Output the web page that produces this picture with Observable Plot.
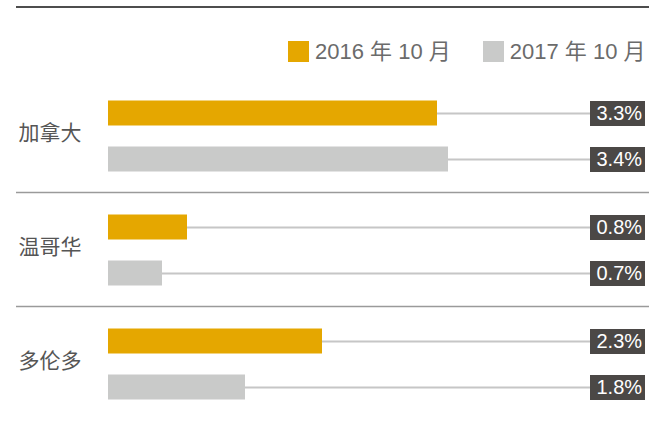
<!DOCTYPE html>
<html>
<head>
<meta charset="utf-8">
<script src="https://cdn.jsdelivr.net/npm/d3@7"></script>
<script src="https://cdn.jsdelivr.net/npm/@observablehq/plot@0.6"></script>
<style>
  html, body { margin: 0; padding: 0; background: #fff; }
  body { width: 649px; height: 427px; overflow: hidden; font-family: "Liberation Sans", Arial, "Noto Sans CJK SC", sans-serif; }
  .topline { height: 0; margin: 6px 0 0 16px; border-top: 2px solid #4d4d4d; }
  .legend { height: 69px; box-sizing: border-box; padding: 33px 0 0 288px; display: flex; align-items: flex-start; }
  .legend .item { display: flex; align-items: center; height: 21px; margin-right: 32px; }
  .legend .sw { width: 21px; height: 21px; margin-right: 6px; }
  .legend .lab { font-size: 22px; color: #6b6b6b; line-height: 21px; white-space: nowrap; }
  #chart svg { display: block; }
</style>
</head>
<body>
<div class="topline"></div>
<div class="legend" id="legend"></div>
<div id="chart"></div>
<script>
// ---- data ----
const cities = ["加拿大", "温哥华", "多伦多"];
const periods = ["2016 年 10 月", "2017 年 10 月"];
const colors = ["#e5a700", "#c9cac9"];
// bar lengths as drawn in the picture (percent)
const bars2016 = [3.29, 0.79, 2.14];
const bars2017 = [3.40, 0.54, 1.37];
// printed value labels
const labels2016 = ["3.3%", "0.8%", "2.3%"];
const labels2017 = ["3.4%", "0.7%", "1.8%"];

// ---- table built from arrays ----
const rows = [];
cities.forEach((c, i) => {
  rows.push({city: c, period: periods[0], value: bars2016[i], label: labels2016[i]});
  rows.push({city: c, period: periods[1], value: bars2017[i], label: labels2017[i]});
});

// ---- legend ----
const legend = document.getElementById("legend");
periods.forEach((p, i) => {
  const item = document.createElement("div");
  item.className = "item";
  item.innerHTML = `<div class="sw" style="background:${colors[i]}"></div><span class="lab">${p}</span>`;
  legend.appendChild(item);
});

// ---- chart ----
const xMax = 4.82;     // right end of the bar area (where labels start)
const boxW = 0.55;     // label box width in x units
const font = "'Liberation Sans', Arial, 'Noto Sans CJK SC', sans-serif";

const chart = Plot.plot({
  width: 649,
  height: 350,
  marginLeft: 16,
  marginRight: 0,
  marginTop: 0.5,
  marginBottom: 7.5,
  style: {fontFamily: font, background: "transparent"},
  x: {domain: [0, xMax], range: [108, 590], axis: null},
  y: {domain: periods, paddingInner: 21 / 46, paddingOuter: 0.467, align: 0.523, axis: null},
  fy: {domain: cities, padding: 0, axis: null},
  color: {domain: periods, range: colors},
  marks: [
    // group separators
    Plot.ruleY(cities.slice(0, 2), {fy: d => d, y: () => periods[1], dy: 33, stroke: "#9a9a9a", strokeWidth: 1.5}),
    // connector lines
    Plot.ruleY(rows, {fy: "city", y: "period", x1: "value", x2: () => xMax, stroke: "#c6c6c6", strokeWidth: 2}),
    // bars
    Plot.barX(rows, {fy: "city", y: "period", x: "value", fill: "period"}),
    // label boxes
    Plot.ruleY(rows, {fy: "city", y: "period", x1: () => xMax, x2: () => xMax + boxW, stroke: "#4b4846", strokeWidth: 25}),
    Plot.text(rows, {fy: "city", y: "period", x: () => xMax, text: "label", textAnchor: "start", dx: 6, fill: "white", fontSize: 20}),
    // city labels
    Plot.text(cities, {fy: d => d, text: d => d, frameAnchor: "left", textAnchor: "start", dx: 2, dy: -2.5, fontSize: 21, fill: "#555", fontFamily: "'Noto Sans CJK SC', sans-serif"})
  ]
});
document.getElementById("chart").appendChild(chart);
</script>
</body>
</html>
